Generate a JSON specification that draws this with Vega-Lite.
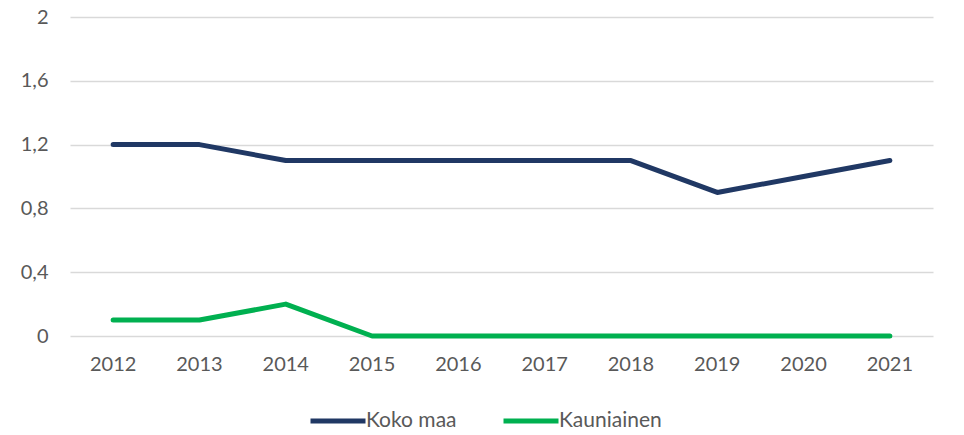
{
  "$schema": "https://vega.github.io/schema/vega-lite/v6.json",
  "autosize": "none",
  "padding": {"left": 70, "top": 17, "right": 31, "bottom": 99},
  "width": 863,
  "height": 319,
  "background": "white",
  "config": {
    "view": {"stroke": null},
    "font": "Lato",
    "axis": {"labelFont": "Lato", "labelColor": "#595959", "labelFontSize": 20},
    "legend": {"labelFont": "Lato", "labelColor": "#595959", "labelFontSize": 21}
  },
  "data": {
    "values": [
      {"year": "2012", "series": "Koko maa", "value": 1.2},
      {"year": "2013", "series": "Koko maa", "value": 1.2},
      {"year": "2014", "series": "Koko maa", "value": 1.1},
      {"year": "2015", "series": "Koko maa", "value": 1.1},
      {"year": "2016", "series": "Koko maa", "value": 1.1},
      {"year": "2017", "series": "Koko maa", "value": 1.1},
      {"year": "2018", "series": "Koko maa", "value": 1.1},
      {"year": "2019", "series": "Koko maa", "value": 0.9},
      {"year": "2020", "series": "Koko maa", "value": 1.0},
      {"year": "2021", "series": "Koko maa", "value": 1.1},
      {"year": "2012", "series": "Kauniainen", "value": 0.1},
      {"year": "2013", "series": "Kauniainen", "value": 0.1},
      {"year": "2014", "series": "Kauniainen", "value": 0.2},
      {"year": "2015", "series": "Kauniainen", "value": 0},
      {"year": "2016", "series": "Kauniainen", "value": 0},
      {"year": "2017", "series": "Kauniainen", "value": 0},
      {"year": "2018", "series": "Kauniainen", "value": 0},
      {"year": "2019", "series": "Kauniainen", "value": 0},
      {"year": "2020", "series": "Kauniainen", "value": 0},
      {"year": "2021", "series": "Kauniainen", "value": 0}
    ]
  },
  "mark": {"type": "line", "strokeWidth": 5, "strokeCap": "round", "strokeJoin": "round"},
  "encoding": {
    "x": {
      "field": "year",
      "type": "ordinal",
      "scale": {"type": "band", "paddingInner": 0, "paddingOuter": 0},
      "axis": {"title": null, "domain": false, "ticks": false, "labelAngle": 0, "labelPadding": 18, "grid": false}
    },
    "y": {
      "field": "value",
      "type": "quantitative",
      "scale": {"domain": [0, 2], "nice": false},
      "axis": {
        "title": null,
        "values": [0, 0.4, 0.8, 1.2, 1.6, 2],
        "labelExpr": "replace(format(datum.value, '.1~f'), '.', ',')",
        "domain": false,
        "ticks": false,
        "labelPadding": 22,
        "grid": true,
        "gridColor": "#d9d9d9",
        "gridWidth": 1.5
      }
    },
    "color": {
      "field": "series",
      "type": "nominal",
      "sort": ["Koko maa", "Kauniainen"],
      "scale": {"domain": ["Koko maa", "Kauniainen"], "range": ["#203864", "#00b050"]},
      "legend": {
        "title": null,
        "orient": "none",
        "direction": "horizontal",
        "legendX": 238,
        "legendY": 374,
        "symbolType": "stroke",
        "symbolSize": 3025,
        "symbolStrokeWidth": 5,
        "labelOffset": -2,
        "columnPadding": 36
      }
    }
  }
}
